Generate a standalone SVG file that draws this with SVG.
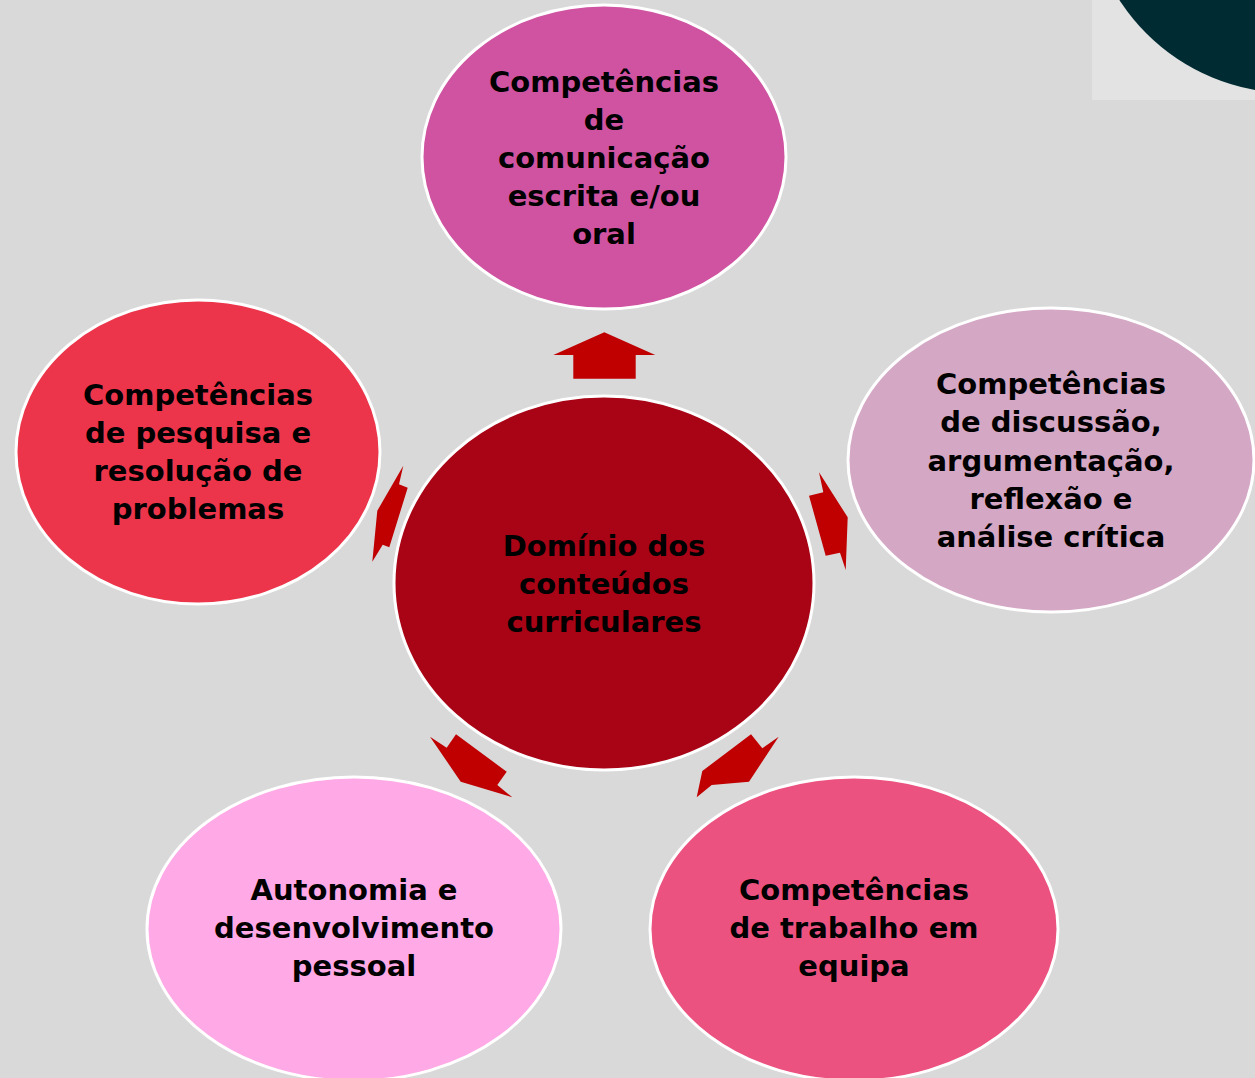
<svg xmlns="http://www.w3.org/2000/svg" width="1255" height="1078" viewBox="0 0 1255 1078">
<style>
.node{stroke:#ffffff;stroke-width:3}
.lbl{font-family:"DejaVu Sans","Liberation Sans",sans-serif;font-weight:bold;font-size:29px;fill:#000000;text-anchor:middle}
.arr{fill:#c00000}
</style>
<rect x="0" y="0" width="1255" height="1078" fill="#d9d9d9"/>
<g id="corner">
<rect x="1092" y="0" width="163" height="100" fill="#e3e3e3"/>
<circle cx="1290" cy="-110" r="203" fill="#002b33"/>
</g>
<g id="connectors">
<polygon class="arr" fill="#b00018" points="604.3,332.3 655.3,355 635.7,355 635.7,378.7 573.3,378.7 573.3,355 553.3,355"/>
<polygon class="arr" points="819,472.3 847.7,517.3 845.7,570 840,552.7 825.7,555.7 809,495.7 823.3,492.3"/>
<polygon class="arr" points="403.3,465.7 399,484.3 407.7,487.7 389.3,547.3 382.7,544.7 372.3,561.7 377.3,510.7"/>
<polygon class="arr" points="430,736.7 446.7,747.7 456,734.3 506.7,771.7 497.3,785 512.3,797.3 460.7,781.7"/>
<polygon class="arr" points="751,734.3 762.3,748.3 778.7,736.7 749,781.7 711.7,785 696.7,797.3 702.3,771"/>
</g>
<g id="node-top">
<ellipse class="node" cx="604" cy="157" rx="182" ry="152" fill="#cf53a0"/>
<text class="lbl"><tspan x="604" y="92">Competências</tspan><tspan x="604" y="130">de</tspan><tspan x="604" y="168">comunicação</tspan><tspan x="604" y="206">escrita e/ou</tspan><tspan x="604" y="244">oral</tspan></text>
</g>
<g id="node-right">
<ellipse class="node" cx="1051" cy="460" rx="203" ry="152" fill="#d4a7c4"/>
<text class="lbl"><tspan x="1051" y="394">Competências</tspan><tspan x="1051" y="432">de discussão,</tspan><tspan x="1051" y="471">argumentação,</tspan><tspan x="1051" y="509">reflexão e</tspan><tspan x="1051" y="547">análise crítica</tspan></text>
</g>
<g id="node-left">
<ellipse class="node" cx="198" cy="452" rx="182" ry="152" fill="#ec354b"/>
<text class="lbl"><tspan x="198" y="405">Competências</tspan><tspan x="198" y="443">de pesquisa e</tspan><tspan x="198" y="481">resolução de</tspan><tspan x="198" y="519">problemas</tspan></text>
</g>
<g id="node-center">
<ellipse class="node" cx="604" cy="583" rx="210" ry="187" fill="#a80416"/>
<text class="lbl"><tspan x="604" y="556">Domínio dos</tspan><tspan x="604" y="594">conteúdos</tspan><tspan x="604" y="632">curriculares</tspan></text>
</g>
<g id="node-bottom-left">
<ellipse class="node" cx="354" cy="929" rx="207" ry="152" fill="#ffa9e7"/>
<text class="lbl"><tspan x="354" y="900">Autonomia e</tspan><tspan x="354" y="938">desenvolvimento</tspan><tspan x="354" y="976">pessoal</tspan></text>
</g>
<g id="node-bottom-right">
<ellipse class="node" cx="854" cy="929" rx="204" ry="152" fill="#ec5280"/>
<text class="lbl"><tspan x="854" y="900">Competências</tspan><tspan x="854" y="938">de trabalho em</tspan><tspan x="854" y="976">equipa</tspan></text>
</g>
</svg>
